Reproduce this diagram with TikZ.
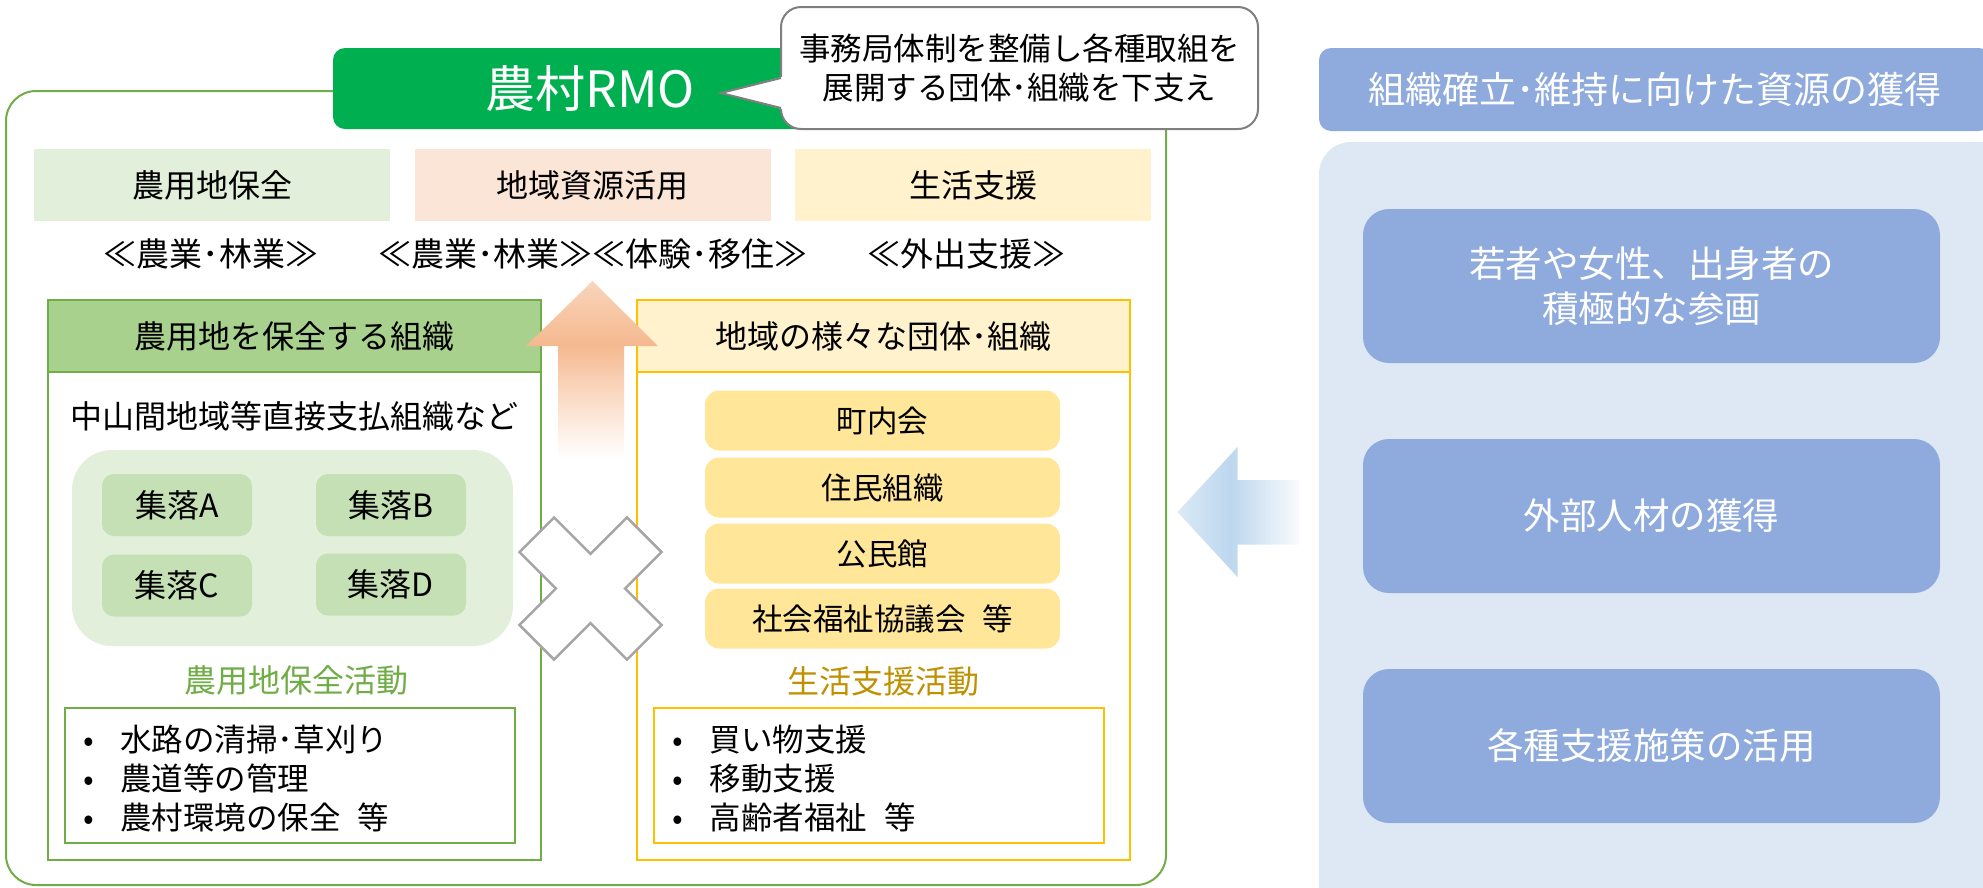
\documentclass[tikz,border=0pt]{standalone}
\usepackage{fontspec}
\setmainfont{Noto Sans CJK JP}
\usetikzlibrary{calc}
\definecolor{rmogreen}{HTML}{00B050}
\definecolor{outgreen}{HTML}{70AD47}
\definecolor{lightgreen}{HTML}{E2EFDA}
\definecolor{midgreen}{HTML}{C5E0B4}
\definecolor{hdrgreen}{HTML}{A9D18E}
\definecolor{peachbox}{HTML}{FBE5D6}
\definecolor{yellowbox}{HTML}{FFF2CC}
\definecolor{gold}{HTML}{FFC000}
\definecolor{itemyellow}{HTML}{FFE699}
\definecolor{darkgold}{HTML}{BF9000}
\definecolor{bluebox}{HTML}{8FAADC}
\definecolor{panelblue}{HTML}{DEE8F5}
\definecolor{lblue}{HTML}{BDD7EE}
\definecolor{peach}{HTML}{F4B183}
\definecolor{calgray}{HTML}{7F7F7F}
\definecolor{xgray}{HTML}{A6A6A6}
\pgfdeclareverticalshading{upshade}{100bp}{color(0bp)=(white); color(25bp)=(white); color(40bp)=(peach!40); color(57bp)=(peach!90); color(75bp)=(peach!55); color(100bp)=(peach!55)}
\pgfdeclarehorizontalshading{leftshade}{100bp}{color(0bp)=(lblue!55); color(25bp)=(lblue!55); color(47bp)=(lblue); color(75bp)=(lblue!10); color(100bp)=(lblue!10)}
\tikzset{
  base/.style={inner sep=0pt, outer sep=0pt, align=center, text=black},
  fnorm/.style={font=\fontsize{32}{38}\selectfont},
  catbox/.style={base, fnorm, minimum width=356, minimum height=72},
  guil/.style={base, font=\fontsize{33}{38}\selectfont},
  rmo/.style={base, fill=rmogreen, rounded corners=12, minimum width=514, minimum height=81, text=white, font=\fontsize{50}{60}\selectfont},
  calloutbox/.style={base, draw=calgray, line width=2, fill=white, rounded corners=20, minimum width=477, minimum height=122, font=\fontsize{31.5}{38.5}\selectfont},
  orgbox/.style={base, line width=2, minimum width=493, minimum height=560},
  orghdr/.style={base, fnorm, line width=2, minimum width=493, minimum height=72},
  villbox/.style={base, fill=midgreen, rounded corners=12, minimum width=150, minimum height=62, fnorm},
  itembox/.style={base, fill=itemyellow, rounded corners=14, minimum width=355, minimum height=60, font=\fontsize{30.5}{36}\selectfont},
  actlabel/.style={base, fnorm},
  listbox/.style={base, line width=2, minimum width=450, minimum height=135},
  listtext/.style={base, align=left, anchor=west, font=\fontsize{31.5}{38.7}\selectfont},
  bluebox/.style={base, fill=bluebox, rounded corners=26, minimum width=577, minimum height=154, text=white, font=\fontsize{36.5}{45}\selectfont},
  xcross/.style={draw=xgray, line width=2.5, fill=white, line join=miter},
}
\newcommand{\bul}{\makebox[37.5pt][l]{•}}
\begin{document}
\begin{tikzpicture}[x=1pt,y=-1pt]
\useasboundingbox (0,0) rectangle (1983,887);
\clip (0,0) rectangle (1983,887);

% ---------- right panel ----------
\node[base, fill=panelblue, rounded corners=32, minimum width=700, minimum height=790] (panel) at (1669,537) {};
\node[base, fill=bluebox, rounded corners=12, minimum width=672, minimum height=83, text=white, font=\fontsize{37}{42}\selectfont] (rhdr) at (1655,89.5) {組織確立･維持に向けた資源の獲得};
\node[bluebox] (r1) at (1651.5,286) {若者や女性、出身者の\\積極的な参画};
\node[bluebox] (r2) at (1651.5,516) {外部人材の獲得};
\node[bluebox] (r3) at (1651.5,746) {各種支援施策の活用};

% ---------- outer frame ----------
\node[base, draw=outgreen, line width=2, rounded corners=30, minimum width=1160, minimum height=794] (outer) at (586,488) {};

% header and callout
\node[rmo] (rmo) at (590,88.5) {農村RMO};
\node[calloutbox] (call) at (1019.5,68) {事務局体制を整備し各種取組を\\展開する団体･組織を下支え};
\coordinate (ptip) at (721,93);
\fill[white] (783.5,76.5) -- (ptip) -- (783.5,109.5) -- cycle;
\draw[calgray, line width=2, line join=miter] (call.west |- 0,78) -- (ptip) -- (call.west |- 0,108);

% categories
\node[catbox, fill=lightgreen] (c1) at (212,185) {農用地保全};
\node[catbox, fill=peachbox] (c2) at (592.5,185) {地域資源活用};
\node[catbox, fill=yellowbox] (c3) at (973,185) {生活支援};
\node[guil] (g1) at (211,254) {≪農業･林業≫};
\node[guil] (g2) at (592.5,254) {≪農業･林業≫≪体験･移住≫};
\node[guil] (g3) at (966,254) {≪外出支援≫};

% ---------- left organisation ----------
\node[orgbox, draw=outgreen] (lorg) at (294.5,580) {};
\node[orghdr, draw=outgreen, fill=hdrgreen] (lhdr) at (294.5,336) {農用地を保全する組織};
\node[base, fnorm] (chusan) at (294,416) {中山間地域等直接支払組織など};
\node[base, fill=lightgreen, rounded corners=40, minimum width=441, minimum height=196] (vill) at (292.5,548) {};
\node[villbox] (va) at (177,505) {集落A};
\node[villbox] (vb) at (391,505) {集落B};
\node[villbox] (vc) at (177,585.5) {集落C};
\node[villbox] (vd) at (391,584.5) {集落D};
\node[actlabel, text=outgreen] (lact) at (296,680) {農用地保全活動};
\node[listbox, draw=outgreen] (llist) at (290,775.5) {};
\node[listtext] (ltxt) at ($(llist.west)+(18,3)$) {\bul 水路の清掃･草刈り\\\bul 農道等の管理\\\bul 農村環境の保全\hspace{17pt}等};

% ---------- right organisation ----------
\node[orgbox, draw=gold] (rorg) at (883,580) {};
\node[orghdr, draw=gold, fill=yellowbox] (rhdr2) at (883,336) {地域の様々な団体･組織};
\node[itembox] (i1) at (882.5,420.5) {町内会};
\node[itembox] (i2) at (882.5,487.5) {住民組織};
\node[itembox] (i3) at (882.5,553.5) {公民館};
\node[itembox] (i4) at (882.5,618.5) {社会福祉協議会\hspace{17pt}等};
\node[actlabel, text=darkgold] (ract) at (883,681.5) {生活支援活動};
\node[listbox, draw=gold] (rlist) at (878.5,775.5) {};
\node[listtext] (rtxt) at ($(rlist.west)+(19,3)$) {\bul 買い物支援\\\bul 移動支援\\\bul 高齢者福祉\hspace{17pt}等};

% ---------- block arrows ----------
\shade[shading=upshade] (592.5,281) -- (658,346) -- (624,346) -- (624,458) -- (558,458) -- (558,346) -- (526,346) -- cycle;
\shade[shading=leftshade] (1177.5,512) -- (1237.5,447) -- (1237.5,480) -- (1299,480) -- (1299,544.5) -- (1237.5,544.5) -- (1237.5,577) -- cycle;

% ---------- cross ----------
\begin{scope}[shift={(590.5,588.5)}]
\draw[xcross] (0,-34.6) -- (36.4,-71.1) -- (71.1,-36.4) -- (34.6,0) -- (71.1,36.4) -- (36.4,71.1) -- (0,34.6) -- (-36.4,71.1) -- (-71.1,36.4) -- (-34.6,0) -- (-71.1,-36.4) -- (-36.4,-71.1) -- cycle;
\end{scope}
\end{tikzpicture}
\end{document}
